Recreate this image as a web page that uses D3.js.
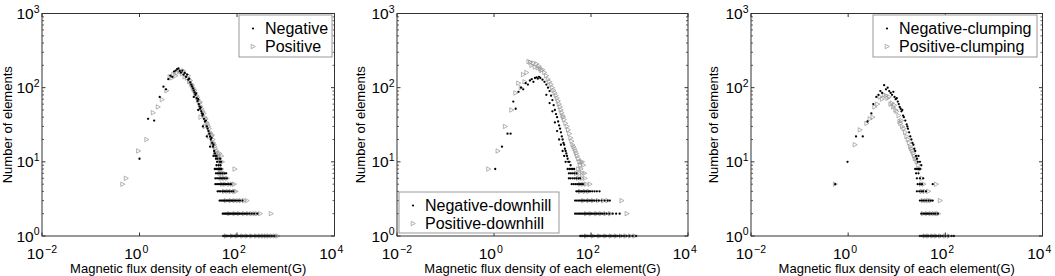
<!DOCTYPE html>
<html><head><meta charset="utf-8">
<script src="https://cdn.jsdelivr.net/npm/d3@7"></script>
<style>body{margin:0;background:#fff}svg{display:block}text{font-family:"Liberation Sans",Arial,sans-serif;fill:#000}</style>
</head><body><svg id="chart" width="1055" height="276"></svg>
<script>
// ---- tick labels / texts ----
const xTickValues = [0.01, 1, 100, 10000];
const xTickExps = ["\u22122", "0", "2", "4"];
const yTickValues = [1, 10, 100, 1000];
const yTickExps = ["0", "1", "2", "3"];
const xLabel = "Magnetic flux density of each element(G)";
const yLabel = "Number of elements";
const legend1 = ["Negative", "Positive"];
const legend2 = ["Negative-downhill", "Positive-downhill"];
const legend3 = ["Negative-clumping", "Positive-clumping"];

// ---- data: [flux density (G), number of elements] ----
const p1Neg = [[1.0,11],[1.5,38],[2.0,36],[2.6,75],[3.1,103],[3.5,95],[3.9,130],[4.3,145],[4.7,140],[5.1,165],[5.5,170],[5.9,178],[6.3,182],[6.7,168],[7.1,160],[7.6,170],[8.0,150],[8.5,158],[9.0,140],[9.5,150],[10,128],[10.5,132],[11,118],[11.5,110],[12,104],[12.5,98],[13,92],[13.5,86],[14,80],[14.5,84],[15,72],[15.5,66],[16,70],[16.5,60],[17,56],[17.5,52],[18,54],[18.5,48],[19,45],[19.5,42],[20,44],[21,38],[22,35],[23,36],[24,30],[25,28],[26,26],[27,24],[28,22],[29,20],[30,21],[31,18],[32,16],[33,17],[34,14],[35,13],[36,12],[37,11],[38,12],[39,10],[40,11],[42,9],[44,10],[46,9],
 [20,30],[24,22],[28,16],[33,12],[38,9],[45,11],[47,10],[16,50],[13,75],
 [35,8],[37,8],[39,8],[41,8],[43,8],[45,8],[48,8],
 [37,7],[40,7],[43,7],[46,7],[50,7],[55,7],[60,7],
 [36,6],[39,6],[42,6],[45,6],[48,6],[52,6],[56,6],[62,6],
 [36,5],[39,5],[42,5],[45,5],[49,5],[53,5],[57,5],[62,5],[68,5],[75,5],
 [40,4],[43,4],[46,4],[50,4],[54,4],[58,4],[63,4],[69,4],[76,4],[84,4],
 [44,3],[47,3],[50,3],[53,3],[56,3],[60,3],[64,3],[68,3],[72,3],[77,3],[82,3],[88,3],[95,3],[105,3],[115,3],[130,3],
 [51,2],[54,2],[57,2],[60,2],[63,2],[67,2],[71,2],[75,2],[79,2],[84,2],[89,2],[94,2],[100,2],[107,2],[114,2],[122,2],[131,2],[141,2],[152,2],[165,2],[180,2],[200,2],[225,2],[260,2],
 [52,1],[56,1],[60,1],[64,1],[68,1],[73,1],[78,1],[83,1],[88,1],[94,1],[100,1],[106,1],[113,1],[120,1],[128,1],[136,1],[145,1],[155,1],[165,1],[176,1],[188,1],[200,1],[214,1],[228,1],[244,1],[260,1],[278,1],[297,1],[318,1],[340,1],[365,1],[395,1],[430,1],[470,1],[520,1],[580,1]];
const p1Pos = [[0.45,5],[0.53,6],[0.95,14],[1.4,20],[1.9,46],[2.4,55],[2.9,69],[3.6,91],[4.2,140],[4.6,135],[5.0,150],[5.5,145],[6.0,160],[6.5,170],[7.0,165],[7.5,155],[8.0,168],[8.5,140],[9.0,150],[9.5,135],[10,145],[10.5,120],[11,125],[11.5,112],[12,108],[12.5,100],[13,95],[13.5,92],[14,85],[15,78],[15.5,74],[16,68],[17,62],[17.5,64],[18,56],[19,52],[20,48],[21,45],[22,40],[23,38],[24,34],[25,32],[26,30],[27,28],[28,25],[29,24],[30,22],[31,23],[32,20],[33,18],[34,17],[35,16],[36,15],[38,14],[40,13],[42,12],[44,11],[46,10],[50,10],
 [18,40],[22,30],[27,22],[31,18],[36,13],[40,12],[44,13],[48,12],
 [45,8],[48,8],[90,8],[45,7],[50,7],[55,7],[48,6],[55,6],[63,6],
 [50,5],[58,5],[70,5],[80,5],[88,5],[55,4],[65,4],[75,4],[88,4],[95,4],
 [60,3],[75,3],[90,3],[105,3],[120,3],[140,3],[160,3],
 [70,2],[90,2],[110,2],[140,2],[170,2],[200,2],[230,2],[260,2],[300,2],[500,2],
 [60,1],[80,1],[100,1],[130,1],[160,1],[200,1],[250,1],[300,1],[350,1],[400,1],[450,1],[520,1],[600,1],[680,1]];
const p2Neg = [[1.06,8],[1.46,16],[1.9,24],[2.2,24],[2.5,65],[2.8,52],[3.2,88],[3.6,100],[4.0,95],[4.5,115],[5.0,110],[5.5,125],[6.0,130],[6.5,120],[7.0,135],[7.6,138],[8.0,132],[8.5,140],[9,135],[10,128],[11,120],[12,110],[13,100],[14,90],[15,78],[16,68],[17,58],[18,50],[19,44],[20,40],[21,35],[22,31],[23,28],[24,25],[25,22],[26,20],[27,18],[28,17],[29,15],[30,14],[31,13],[32,12],[33,11],[34,10],[36,10],[38,9],
 [12,80],[14,62],[16,48],[18,34],[20,26],[22,20],[24,17],[26,14],[28,12],[30,10],
 [33,8],[36,8],[39,8],[42,8],[45,8],[35,7],[38,7],[41,7],[45,7],[50,7],
 [35,6],[38,6],[42,6],[46,6],[50,6],[55,6],[60,6],[40,5],[44,5],[48,5],[52,5],[57,5],[62,5],[68,5],
 [50,4],[54,4],[58,4],[63,4],[68,4],[74,4],[80,4],[88,4],[96,4],[106,4],[118,4],[132,4],[150,4],
 [47,3],[51,3],[55,3],[59,3],[63,3],[68,3],[73,3],[79,3],[85,3],[92,3],[100,3],[108,3],[118,3],[130,3],[145,3],[165,3],[190,3],[220,3],[245,3],
 [47,2],[51,2],[55,2],[59,2],[63,2],[68,2],[73,2],[78,2],[84,2],[90,2],[97,2],[104,2],[112,2],[121,2],[131,2],[142,2],[155,2],[170,2],[188,2],[210,2],[240,2],[280,2],[330,2],[390,2],
 [60,1],[64,1],[68,1],[73,1],[78,1],[84,1],[90,1],[96,1],[103,1],[110,1],[118,1],[127,1],[136,1],[146,1],[157,1],[169,1],[182,1],[196,1],[212,1],[230,1],[250,1],[272,1],[297,1],[325,1],[356,1],[390,1],[430,1],[480,1],[540,1],[620,1],[720,1],[850,1]];
const p2Pos = [[0.77,8],[1.2,14],[1.7,30],[2.3,50],[2.8,85],[3.2,115],[3.6,100],[4.0,150],[4.3,120],[4.7,160],[5.2,225],[5.6,220],[6.0,200],[6.5,215],[7.0,190],[7.5,210],[8.0,185],[8.5,195],[9.0,180],[9.5,170],[10,175],[11,160],[12,145],[13,130],[14,120],[15,110],[16,100],[17,92],[18,85],[19,78],[20,72],[21,66],[22,60],[23,55],[24,50],[25,46],[26,42],[27,40],[28,37],[30,33],[32,30],[34,27],[36,24],[38,21],[40,19],[42,17],[44,16],[46,15],[48,14],[50,13],[52,12],[55,11],[58,10],[62,10],[66,10],[70,9],
 [60,9],[55,8],[62,8],[50,7],[58,7],[66,7],[74,7],[55,6],[65,6],[75,6],[60,5],[70,5],[80,5],[95,5],[60,4],[75,4],[90,4],
 [70,3],[90,3],[110,3],[140,3],[180,3],[220,3],[430,3],[80,2],[100,2],[130,2],[160,2],[200,2],[250,2],[550,2],
 [80,1],[110,1],[150,1],[200,1],[260,1],[330,1],[420,1],[520,1],[650,1],[800,1]];
const p3Neg = [[0.54,5],[0.97,10],[1.45,22],[2.0,22],[2.5,35],[3.0,45],[3.3,60],[3.8,75],[4.2,80],[4.6,90],[5.0,85],[5.5,108],[6.0,95],[6.5,100],[7.0,90],[7.5,85],[8.0,80],[8.5,88],[9.0,75],[9.5,70],[10,72],[10.5,65],[11,60],[11.5,55],[12,52],[12.5,48],[13,50],[13.5,42],[14,40],[15,36],[16,32],[16.5,30],[17,28],[18,25],[19,22],[20,20],[21,18],[22,17],[23,15],[24,14],[25,12],[26,11],[27,10],[28,12],[30,10],[32,9],
 [24,8],[26,8],[28,8],[30,8],[25,7],[28,7],[26,6],[30,6],[35,6],[27,5],[30,5],[33,5],[55,5],
 [26,4],[29,4],[32,4],[35,4],[40,4],[30,3],[33,3],[36,3],[40,3],[45,3],[50,3],[55,3],
 [32,2],[35,2],[38,2],[41,2],[44,2],[48,2],[52,2],[57,2],[62,2],[70,2],
 [30,1],[33,1],[36,1],[39,1],[42,1],[45,1],[49,1],[53,1],[57,1],[62,1],[67,1],[73,1],[80,1],[88,1],[100,1],[115,1],[135,1],[150,1]];
const p3Pos = [[0.54,5],[1.38,17],[1.75,27],[2.4,33],[2.8,38],[3.2,40],[3.5,55],[4.0,60],[4.5,75],[5.0,70],[5.5,80],[6.0,78],[6.5,72],[7.0,75],[7.5,60],[8.0,62],[8.5,55],[9.0,58],[9.5,50],[10,48],[11,42],[11.5,35],[12,33],[12.5,36],[13,30],[14,28],[15,25],[16,22],[17,20],[18,18],[19,16],[20,15],[21,14],[22,13],[23,12],[24,11],[25,11],[26,10],[28,9],
 [30,8],[33,6],[32,5],[36,5],[65,5],[33,4],[38,4],[45,4],[35,3],[40,3],[45,3],[50,3],[78,3],
 [35,2],[42,2],[50,2],[58,2],[66,2],[72,2],[38,1],[45,1],[55,1],[65,1],[80,1],[100,1],[120,1]];

// ---- layout ----
const plotTop = 13.5, plotBottom = 236;
const panels = [
  {left: 42, right: 334.5, ylab: 30.5, neg: p1Neg, pos: p1Pos, names: legend1, lg: {x: 239, y: 15, w: 93, h: 42}},
  {left: 397, right: 688, ylab: 32.5, neg: p2Neg, pos: p2Pos, names: legend2, lg: {x: 399, y: 192, w: 160, h: 41}},
  {left: 751, right: 1042.5, ylab: 33.5, neg: p3Neg, pos: p3Pos, names: legend3, lg: {x: 873, y: 15, w: 164, h: 42}}
];
const svg = d3.select("#chart");
const axisColor = "#333";
const posColor = "#999";
const triPath = "M-1.8,-2.2L2.3,0L-1.8,2.2Z";

panels.forEach(p => {
  const x = d3.scaleLog().domain([0.01, 10000]).range([p.left, p.right]);
  const y = d3.scaleLog().domain([1, 1000]).range([plotBottom, plotTop]);
  const g = svg.append("g");

  // data
  g.append("g").selectAll("path").data(p.pos).join("path")
    .attr("d", triPath)
    .attr("transform", d => `translate(${x(d[0])},${y(d[1])})`)
    .attr("fill", "none").attr("stroke", posColor).attr("stroke-width", 0.75);
  g.append("g").selectAll("circle").data(p.neg).join("circle")
    .attr("cx", d => x(d[0])).attr("cy", d => y(d[1])).attr("r", 1.15)
    .attr("fill", "#000");

  // frame
  g.append("rect").attr("x", p.left).attr("y", plotTop)
    .attr("width", p.right - p.left).attr("height", plotBottom - plotTop)
    .attr("fill", "none").attr("stroke", axisColor).attr("stroke-width", 1);

  // x ticks (major, inside, both sides)
  xTickValues.forEach((v, i) => {
    const xp = x(v);
    g.append("line").attr("x1", xp).attr("x2", xp).attr("y1", plotBottom).attr("y2", plotBottom - 3.5).attr("stroke", axisColor);
    g.append("line").attr("x1", xp).attr("x2", xp).attr("y1", plotTop).attr("y2", plotTop + 3.5).attr("stroke", axisColor);
    g.append("text").attr("x", xp + 2).attr("y", 258.5).attr("text-anchor", "end")
      .attr("font-size", 15.5).text("10");
    g.append("text").attr("x", xp + 3).attr("y", 252.5).attr("text-anchor", "start")
      .attr("font-size", 10.5).text(xTickExps[i]);
  });

  // y ticks: major + minor
  const minor = [];
  yTickValues.slice(0, 3).forEach(v => { for (let k = 2; k <= 9; k++) minor.push(v * k); });
  minor.forEach(v => {
    const yp = y(v);
    g.append("line").attr("x1", p.left).attr("x2", p.left + 2).attr("y1", yp).attr("y2", yp).attr("stroke", axisColor).attr("stroke-width", 0.8);
    g.append("line").attr("x1", p.right).attr("x2", p.right - 2).attr("y1", yp).attr("y2", yp).attr("stroke", axisColor).attr("stroke-width", 0.8);
  });
  yTickValues.forEach((v, i) => {
    const yp = y(v);
    g.append("line").attr("x1", p.left).attr("x2", p.left + 3.5).attr("y1", yp).attr("y2", yp).attr("stroke", axisColor);
    g.append("line").attr("x1", p.right).attr("x2", p.right - 3.5).attr("y1", yp).attr("y2", yp).attr("stroke", axisColor);
    const t = g.append("text").attr("x", p.left - 2.5).attr("y", yp + 5.5).attr("text-anchor", "end");
    t.append("tspan").attr("font-size", 15.5).text("10");
    t.append("tspan").attr("font-size", 10.5).attr("dy", -6.5).text(yTickExps[i]);
  });

  // axis labels
  g.append("text").attr("x", (p.left + p.right) / 2).attr("y", 272.5)
    .attr("text-anchor", "middle").attr("font-size", 13).text(xLabel);
  g.append("text").attr("transform", `translate(${p.left - p.ylab},${(plotTop + plotBottom) / 2}) rotate(-90)`)
    .attr("text-anchor", "middle").attr("font-size", 13).text(yLabel);

  // legend
  const L = p.lg;
  g.append("rect").attr("x", L.x).attr("y", L.y).attr("width", L.w).attr("height", L.h)
    .attr("fill", "#fff").attr("stroke", "#999").attr("stroke-width", 1);
  const rowY = [L.y + 13.5, L.y + 31.5];
  g.append("circle").attr("cx", L.x + 14).attr("cy", rowY[0]).attr("r", 1.1).attr("fill", "#000");
  g.append("path").attr("d", triPath).attr("transform", `translate(${L.x + 14},${rowY[1]})`)
    .attr("fill", "none").attr("stroke", posColor).attr("stroke-width", 0.75);
  p.names.forEach((n, i) => {
    g.append("text").attr("x", L.x + 26).attr("y", rowY[i] + 5.5).attr("font-size", 16).text(n);
  });
});
</script>
</body></html>
